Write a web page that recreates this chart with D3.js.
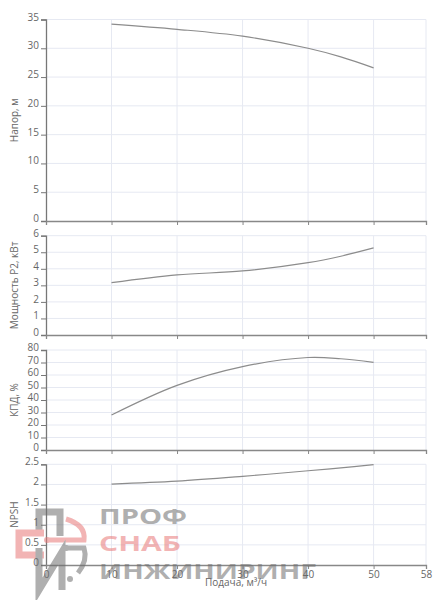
<!DOCTYPE html>
<html><head><meta charset="utf-8">
<script src="https://cdn.jsdelivr.net/npm/d3@7"></script>
<style>
body{margin:0;background:#fff;}
svg text{font-family:"Open Sans",sans-serif;}
</style></head>
<body><svg id="c" width="434" height="600"></svg>
<script>
const flow = [10, 20, 30, 40, 45, 50];
const head = [34.2, 33.3, 32.1, 30.0, 28.5, 26.6];
const power = [3.16, 3.63, 3.87, 4.37, 4.76, 5.26];
const eff = [28, 51.7, 66.7, 74.0, 73.0, 70.1];
const npsh = [2.01, 2.08, 2.20, 2.34, 2.41, 2.49];
const xTicks = [0, 10, 20, 30, 40, 50, 58];
const xTitle = "Подача, м³/ч";
const panels = [
  {label: "Напор, м", values: head, max: 35, ticks: [0,5,10,15,20,25,30,35], top: 19.5, bottom: 221},
  {label: "Мощность P2, кВт", values: power, max: 6, ticks: [0,1,2,3,4,5,6], top: 235.7, bottom: 335},
  {label: "КПД, %", values: eff, max: 80, ticks: [0,10,20,30,40,50,60,70,80], top: 350, bottom: 450},
  {label: "NPSH", values: npsh, max: 2.5, ticks: [0,0.5,1,1.5,2,2.5], top: 464.3, bottom: 565}
];

const svg = d3.select("#c");
const x = d3.scaleLinear().domain([0, 58]).range([46, 426]);
const gridC = "#e6e9f2", textC = "#666";

panels.forEach((p, i) => {
  const y = d3.scaleLinear().domain([0, p.max]).range([p.bottom, p.top]);
  const g = svg.append("g");
  g.selectAll(".hg").data(p.ticks.slice(1)).join("line")
    .attr("x1", x(0)).attr("x2", x(58)).attr("y1", d => y(d)).attr("y2", d => y(d))
    .attr("stroke", gridC).attr("stroke-width", 1);
  g.selectAll(".vg").data(xTicks.slice(1)).join("line")
    .attr("x1", d => x(d)).attr("x2", d => x(d)).attr("y1", y(p.max)).attr("y2", y(0))
    .attr("stroke", gridC).attr("stroke-width", 1);
  const line = d3.line().x((d, j) => x(flow[j])).y(d => y(d)).curve(d3.curveCatmullRom.alpha(0.5));
  g.append("path").datum(p.values).attr("d", line)
    .attr("fill", "none").attr("stroke", "#8c8c8c").attr("stroke-width", 1.2);
  const ya = d3.axisLeft(y).tickValues(p.ticks).tickSize(5).tickPadding(2).tickFormat(d3.format("~g"));
  const yg = g.append("g").attr("transform", `translate(${x(0)},0)`).call(ya);
  yg.select(".domain").attr("stroke", "#777").attr("stroke-width", 1.3);
  yg.selectAll(".tick line").attr("stroke", "#777");
  yg.selectAll("text").attr("fill", textC).attr("font-size", 10).attr("dy", "0.05em");
  const xa = d3.axisBottom(x).tickValues(xTicks).tickSize(4).tickPadding(2);
  const xg = g.append("g").attr("transform", `translate(0,${y(0)})`).call(xa);
  xg.select(".domain").attr("stroke", "#888").attr("stroke-width", 1.3);
  xg.selectAll(".tick line").attr("stroke", "#888");
  xg.selectAll("text").attr("fill", textC).attr("font-size", 10);
  if (i < panels.length - 1) xg.selectAll("text").remove();
  g.append("text").attr("transform", `translate(18,${(p.top + p.bottom) / 2}) rotate(-90)`)
    .attr("text-anchor", "middle").attr("fill", textC).attr("font-size", 10).text(p.label);
});

svg.append("text").attr("x", 236).attr("y", 586).attr("text-anchor", "middle")
  .attr("fill", textC).attr("font-size", 10).text(xTitle);

// watermark
const wm = svg.append("g").attr("opacity", 0.55);
const grayW = "#6e6e6e", redW = "#e87878";
wm.append("path").attr("d", "M39,536 L39,512 L60,512 L60,536").attr("fill", "none").attr("stroke", grayW).attr("stroke-width", 7);
wm.append("path").attr("d", "M44,533 L19,533 L19,555 L44,555").attr("fill", "none").attr("stroke", redW).attr("stroke-width", 7);
wm.append("path").attr("d", "M66,519 Q86,525 84,540 L47,540").attr("fill", "none").attr("stroke", redW).attr("stroke-width", 5);
wm.append("circle").attr("cx", 47).attr("cy", 540).attr("r", 3).attr("fill", redW);
wm.append("path").attr("d", "M39,548 L39,590 L62,552 L62,590").attr("fill", "none").attr("stroke", grayW).attr("stroke-width", 7);
wm.append("path").attr("d", "M66,548 L84,548 Q88,560 78,573").attr("fill", "none").attr("stroke", grayW).attr("stroke-width", 5);
wm.append("circle").attr("cx", 66).attr("cy", 548).attr("r", 3).attr("fill", grayW);
wm.append("circle").attr("cx", 70).attr("cy", 579).attr("r", 3).attr("fill", grayW);
const wt = [
  {t: "ПРОФ", y: 523.5, c: grayW, w: 88},
  {t: "СНАБ", y: 551, c: redW, w: 82},
  {t: "ИНЖИНИРИНГ", y: 578.5, c: grayW, w: 217}
];
wt.forEach(d => {
  wm.append("text").attr("x", 99).attr("y", d.y).attr("fill", d.c)
    .attr("font-family", "DejaVu Sans").attr("font-weight", "bold").attr("font-size", 21)
    .attr("textLength", d.w).attr("lengthAdjust", "spacingAndGlyphs").text(d.t);
});
</script></body></html>
